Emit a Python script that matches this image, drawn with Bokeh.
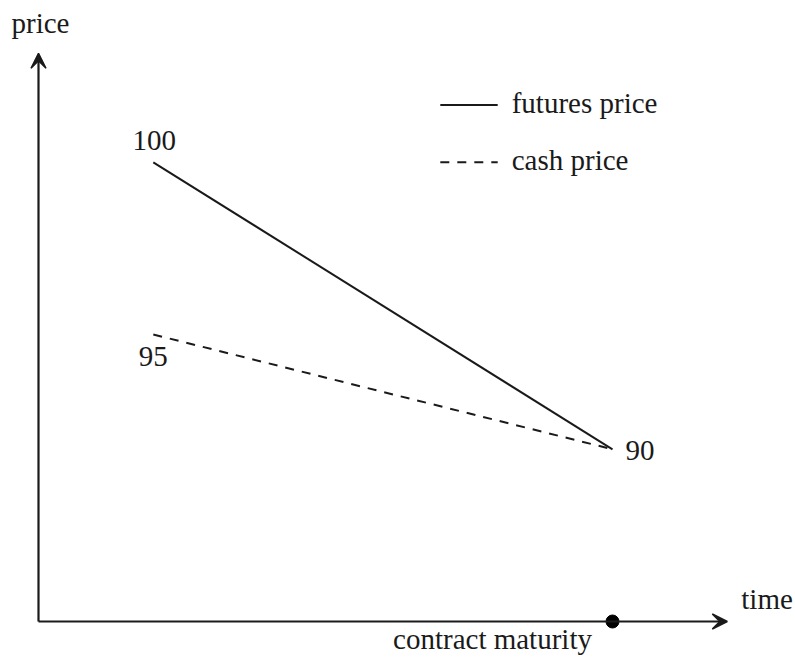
from bokeh.plotting import figure
from bokeh.models import Range1d, Arrow, VeeHead
from bokeh.core.properties import value
from bokeh.embed import file_html
from bokeh.resources import INLINE

# ---- data (schematic levels) ----
times = [2, 10]              # start of period, contract maturity
futures_level = [8, 3]       # futures price path (schematic height)
cash_level = [5, 3]          # cash price path (schematic height)
price_labels = ["100", "95", "90"]
legend_labels = ["futures price", "cash price"]
axis_labels = ["time", "price"]
maturity_label = "contract maturity"
time_axis_end = 12
price_axis_end = 9.9

FONT = value("Liberation Serif")
FS = "29px"
INK = "#1a1a1a"
SHIFT = -10  # baseline correction for svg text

# scale: 57.4 px per unit, origin at (38, 621) in the canvas
px = 57.4
W, H = 795, 657
p = figure(width=W, height=H, output_backend="svg", toolbar_location=None,
           x_range=Range1d((0 - 38) / px, (W - 38) / px),
           y_range=Range1d((621 - H) / px, 621 / px),
           min_border=0, x_axis_location=None, y_axis_location=None)
p.grid.visible = False
p.outline_line_color = None
p.background_fill_color = "white"

# axes with arrows
for xe, ye in [(time_axis_end, 0), (0, price_axis_end)]:
    p.add_layout(Arrow(x_start=0, y_start=0, x_end=xe, y_end=ye,
                       line_color=INK, line_width=2.2,
                       end=VeeHead(size=15, fill_color=INK, fill_alpha=1.0,
                                   line_color=INK, line_width=1.5)))

# price paths
p.line(times, futures_level, line_color=INK, line_width=2)
p.line(times, cash_level, line_color=INK, line_width=2, line_dash="9 8")

# maturity dot
p.scatter([times[1]], [0], size=13, color="black")

def label(x, y, t, align, dx, dy):
    p.text(x, y, text=t, text_font=FONT, text_font_size=FS, text_color=INK,
           text_align=align, text_baseline="alphabetic",
           x_offset=dx, y_offset=dy + SHIFT)

# price labels
label([times[0]], [futures_level[0]], [price_labels[0]], "center", 1, -12)
label([times[0]], [cash_level[0]], [price_labels[1]], "center", 0, 32)
label([times[1]], [cash_level[1]], [price_labels[2]], "left", 13, 11)

# axis labels
label([0], [price_axis_end], [axis_labels[1]], "center", 2, -20)
label([time_axis_end], [0], [axis_labels[0]], "left", 14, -13)
label([times[1]], [0], [maturity_label], "center", -120, 27)

# manual legend
leg_x = [7, 8]
leg_y = [9, 8]
p.line(leg_x, [leg_y[0]] * 2, line_color=INK, line_width=2)
p.line(leg_x, [leg_y[1]] * 2, line_color=INK, line_width=2, line_dash="9 8")
label([leg_x[1]] * 2, leg_y, legend_labels, "left", 14, 8)

open("out.html", "w").write(file_html(p, INLINE))
